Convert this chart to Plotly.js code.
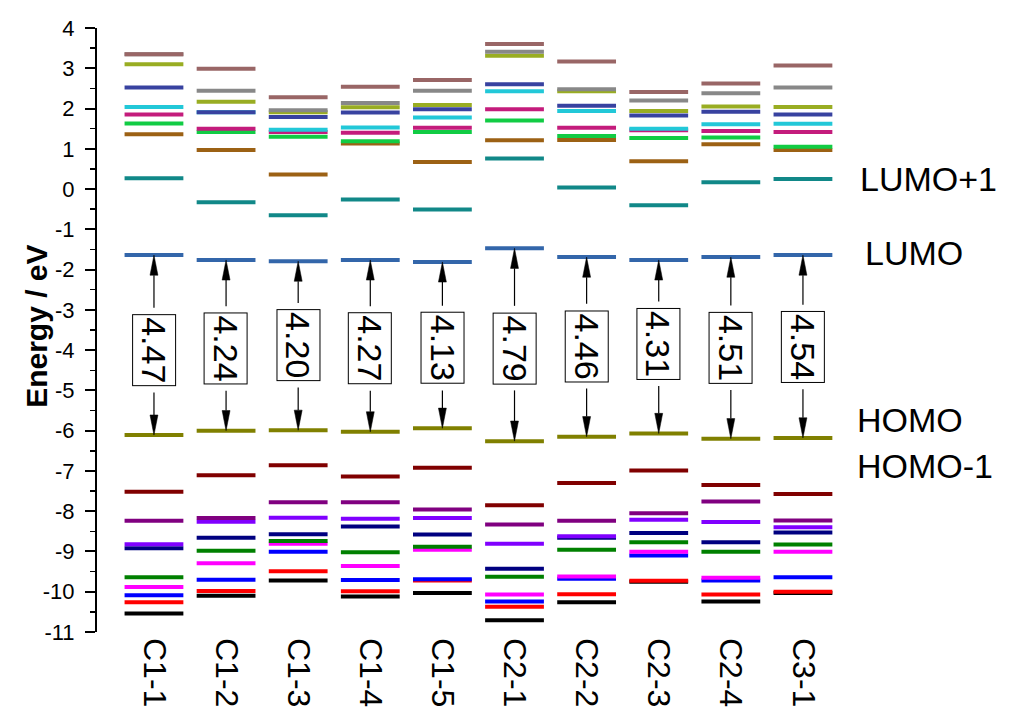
<!DOCTYPE html>
<html>
<head>
<meta charset="utf-8">
<script src="https://cdn.plot.ly/plotly-3.0.1.min.js"></script>
<style>
html, body {margin:0; padding:0; background:#fff;}
#chart {width:1024px; height:727px;}
</style>
</head>
<body>
<div id="chart"></div>
<script>
// compounds along the x axis
var compounds = ['C1-1', 'C1-2', 'C1-3', 'C1-4', 'C1-5', 'C2-1', 'C2-2', 'C2-3', 'C2-4', 'C3-1'];

// orbital energies in eV, one array per orbital, same order as compounds
var homo9 = [-10.54, -10.10, -9.72, -10.12, -10.03, -10.71, -10.26, -9.75, -10.24, -10.03];
var homo8 = [-10.26, -9.98, -9.49, -9.99, -9.72, -10.37, -10.06, -9.73, -10.07, -10.00];
var homo7 = [-10.09, -9.70, -9.01, -9.71, -9.69, -10.24, -9.68, -9.10, -9.72, -9.64];
var homo6 = [-9.88, -9.29, -8.81, -9.36, -8.96, -10.07, -9.62, -9.01, -9.65, -9.01];
var homo5 = [-9.64, -8.98, -8.74, -9.02, -8.88, -9.63, -8.96, -8.77, -9.01, -8.83];
var homo4 = [-8.92, -8.66, -8.57, -8.38, -8.58, -9.43, -8.66, -8.54, -8.77, -8.53];
var homo3 = [-8.82, -8.26, -8.16, -8.19, -8.17, -8.81, -8.62, -8.21, -8.27, -8.40];
var homo2 = [-8.24, -8.17, -7.78, -7.78, -7.96, -8.33, -8.24, -8.05, -7.76, -8.23];
var homo1 = [-7.52, -7.11, -6.86, -7.14, -6.92, -7.85, -7.30, -6.99, -7.35, -7.57];
var homo  = [-6.11, -6.00, -5.99, -6.03, -5.94, -6.26, -6.15, -6.07, -6.20, -6.18];
var lumo  = [-1.64, -1.76, -1.79, -1.76, -1.81, -1.47, -1.69, -1.76, -1.69, -1.64];
var lumo1 = [0.27, -0.33, -0.65, -0.26, -0.51, 0.76, 0.04, -0.40, 0.17, 0.25];
var lumo2 = [1.36, 0.97, 0.36, 1.13, 0.67, 1.21, 1.22, 0.69, 1.11, 0.97];
var lumo3 = [1.63, 1.42, 1.30, 1.19, 1.42, 1.70, 1.32, 1.27, 1.28, 1.05];
var lumo4 = [1.85, 1.50, 1.42, 1.40, 1.52, 1.98, 1.52, 1.46, 1.44, 1.42];
var lumo5 = [2.04, 1.91, 1.47, 1.53, 1.78, 2.43, 1.94, 1.50, 1.61, 1.62];
var lumo6 = [2.52, 1.91, 1.79, 1.90, 1.98, 2.60, 2.07, 1.83, 1.92, 1.85];
var lumo7 = [3.10, 2.17, 1.91, 2.03, 2.09, 3.31, 2.43, 1.94, 2.05, 2.04];
var lumo8 = [3.35, 2.44, 1.96, 2.14, 2.44, 3.41, 2.48, 2.20, 2.38, 2.52];
var lumo9 = [3.35, 2.99, 2.28, 2.54, 2.71, 3.60, 3.17, 2.41, 2.62, 3.07];

// HOMO-LUMO gaps as printed, and the height of their boxes (eV)
var gaps = ['4.47', '4.24', '4.20', '4.27', '4.13', '4.79', '4.46', '4.31', '4.51', '4.54'];
var gapBoxY = [-4.00, -3.96, -3.88, -3.96, -3.95, -3.95, -3.90, -3.84, -3.94, -3.92];

// y tick labels (plain hyphen like the original)
var yTickVals = [4, 3, 2, 1, 0, -1, -2, -3, -4, -5, -6, -7, -8, -9, -10, -11];
var yTickText = ['4', '3', '2', '1', '0', '-1', '-2', '-3', '-4', '-5', '-6', '-7', '-8', '-9', '-10', '-11'];

// side labels and the energy they sit at
var sideLabels = ['LUMO+1', 'LUMO', 'HOMO', 'HOMO-1'];
var sideLabelY = [0.24, -1.59, -5.74, -6.88];
var sideLabelX = [1.026, 1.033, 1.022, 1.022];

var orbitals = [
  {e: homo9, color: '#000000'},
  {e: homo8, color: '#ff0000'},
  {e: homo7, color: '#0000ff'},
  {e: homo6, color: '#ff00ff'},
  {e: homo5, color: '#008000'},
  {e: homo4, color: '#000080'},
  {e: homo3, color: '#8000ff'},
  {e: homo2, color: '#800080'},
  {e: homo1, color: '#800000'},
  {e: homo,  color: '#808000'},
  {e: lumo,  color: '#3366aa'},
  {e: lumo1, color: '#118888'},
  {e: lumo2, color: '#9c6114'},
  {e: lumo3, color: '#11cc44'},
  {e: lumo4, color: '#c41c7c'},
  {e: lumo5, color: '#22c8d8'},
  {e: lumo6, color: '#3842a0'},
  {e: lumo7, color: '#99ad22'},
  {e: lumo8, color: '#888888'},
  {e: lumo9, color: '#996666'}
];

var xpos = compounds.map(function(c, i){ return i; });
var FONT = 'Liberation Sans, Arial, sans-serif';

//one trace per orbital, each level is a short flat dash
var data = orbitals.map(function(o){
  return {
    x: xpos,
    y: o.e,
    type: 'scatter',
    mode: 'markers',
    marker: {
      symbol: 'line-ew',
      size: 42,
      color: o.color,
      line: {color: o.color, width: 4}
    },
    showlegend: false,
    hoverinfo: 'y'
  };
});

//arrows: thin stem plus a narrow filled head, tip on the level
var headLen = 0.5, headHalf = 0.055, stemGap = 1.05;
var shapes = [];
function arrow(i, from, to){
  var dir = to > from ? 1 : -1;
  var base = to - dir * headLen;
  shapes.push({type: 'line', xref: 'x', yref: 'y', x0: i, x1: i, y0: from, y1: base,
    line: {color: '#000', width: 1.2}});
  shapes.push({type: 'path', xref: 'x', yref: 'y',
    path: 'M' + (i - headHalf) + ',' + base + ' L' + i + ',' + to + ' L' + (i + headHalf) + ',' + base + ' Z',
    fillcolor: '#000', line: {color: '#000', width: 0.5}});
}

var annotations = [];
compounds.forEach(function(c, i){
  arrow(i, gapBoxY[i] + stemGap, lumo[i]);
  arrow(i, gapBoxY[i] - stemGap, homo[i]);
  //gap value in a box
  annotations.push({
    x: i, y: gapBoxY[i], xref: 'x', yref: 'y',
    text: gaps[i], showarrow: false, textangle: 90,
    font: {family: FONT, size: 34, color: '#000'},
    bgcolor: '#fff', bordercolor: '#000', borderwidth: 1, borderpad: 2
  });
});
sideLabels.forEach(function(t, i){
  annotations.push({
    x: sideLabelX[i], y: sideLabelY[i], xref: 'paper', yref: 'y',
    xanchor: 'left', yanchor: 'middle',
    text: t, showarrow: false,
    font: {family: FONT, size: 34, color: '#000'}
  });
});
//y axis title, placed by hand closer to the tick labels
annotations.push({
  x: -0.081, y: -3.4, xref: 'paper', yref: 'y',
  xanchor: 'center', yanchor: 'middle',
  text: 'Energy / eV', showarrow: false, textangle: -90,
  font: {family: FONT, size: 30, weight: 'bold', color: '#000'}
});

var layout = {
  width: 1024,
  height: 727,
  margin: {l: 97, r: 185, t: 28, b: 95},
  paper_bgcolor: '#fff',
  plot_bgcolor: '#fff',
  font: {family: FONT, color: '#000'},
  xaxis: {
    range: [-0.79, 9.5],
    tickvals: xpos,
    ticktext: compounds,
    tickangle: 90,
    tickfont: {size: 32},
    ticklabelstandoff: 5,
    showline: false,
    showgrid: false,
    zeroline: false,
    ticks: ''
  },
  yaxis: {
    range: [-11, 4],
    tickvals: yTickVals,
    ticktext: yTickText,
    showline: true,
    linecolor: '#000',
    linewidth: 2,
    ticks: 'outside',
    ticklen: 10,
    tickwidth: 2,
    tickcolor: '#000',
    ticklabelstandoff: 6,
    minor: {tick0: 0, dtick: 0.5, ticks: 'outside', ticklen: 5, tickwidth: 1.5, tickcolor: '#000'},
    tickfont: {size: 22},
    showgrid: false,
    zeroline: false
  },
  shapes: shapes,
  annotations: annotations
};

Plotly.newPlot('chart', data, layout, {displayModeBar: false, staticPlot: true});
</script>
</body>
</html>
